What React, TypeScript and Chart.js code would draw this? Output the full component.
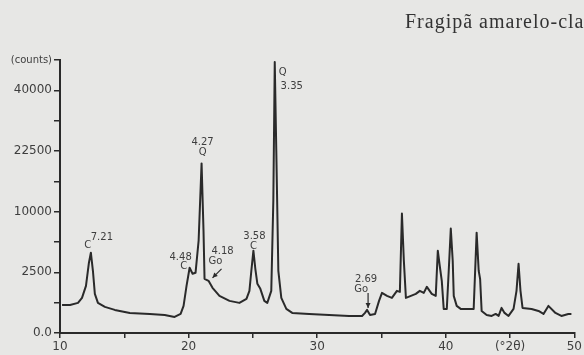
import React, { useEffect, useRef } from "react";
import { Chart, registerables } from "chart.js";

Chart.register(...registerables);

const title = "Fragipã amarelo-claro";

const twoTheta = [
  10.16, 10.78, 11.4, 11.71, 12.02, 12.25, 12.4, 12.56, 12.71, 12.95,
  13.49, 14.26, 15.43, 16.98, 18.14, 18.91, 19.38, 19.61, 19.84, 20.08,
  20.31, 20.54, 20.78, 21.01, 21.16, 21.24, 21.55, 21.86, 22.4, 23.18,
  23.95, 24.5, 24.73, 24.88, 25.04, 25.19, 25.35, 25.58, 25.89, 26.12,
  26.43, 26.59, 26.7, 26.82, 26.98, 27.21, 27.6, 28.06, 29.38, 30.93,
  32.48, 33.49, 33.72, 33.88, 34.11, 34.5, 34.81, 35.04, 35.43, 35.81,
  36.2, 36.43, 36.59, 36.74, 36.9, 37.29, 37.67, 37.98, 38.29, 38.53,
  38.91, 39.22, 39.38, 39.53, 39.69, 39.84, 40.08, 40.23, 40.39, 40.54,
  40.62, 40.85, 41.16, 42.17, 42.4, 42.56, 42.67, 42.79, 43.18, 43.57,
  43.88, 44.11, 44.34, 44.57, 44.88, 45.27, 45.5, 45.66, 45.81, 45.97,
  46.67, 47.21, 47.6, 47.98, 48.53, 48.99, 49.53, 49.77,
];

const counts = [
  536, 536, 616, 838, 1512, 3353, 4380, 2630, 1041, 616,
  463, 362, 274, 247, 222, 175, 247, 499, 1512, 2891,
  2382, 2463, 5791, 19543, 7119, 1995, 1850, 1386, 937, 701,
  616, 791, 1207, 2630, 4601, 2803, 1643, 1325, 701, 616,
  1207, 11923, 49880, 22670, 2630, 838, 394, 274, 247, 222,
  198, 198, 274, 362, 222, 247, 701, 1095, 937, 838,
  1207, 1150, 9690, 3547, 838, 937, 1041, 1207, 1095, 1448,
  1041, 937, 4601, 3072, 1850, 394, 394, 2630, 7401, 3547,
  937, 499, 394, 394, 6843, 2630, 1995, 331, 222, 198,
  247, 198, 428, 274, 198, 394, 1207, 3258, 1207, 428,
  394, 331, 247, 499, 274, 198, 247, 247,
];

const yTickCounts = [0, 2500, 10000, 22500, 40000];
const yTickLabels = ["0.0", "2500", "10000", "22500", "40000"];
const yUnitLabel = "(counts)";
const xUnitLabel = "(°2θ)";

// peak annotations: d-spacing, mineral, anchor position (2θ, counts)
const peakD = ["7.21", "4.48", "4.27", "4.18", "3.58", "3.35", "2.69"];
const peakMineral = ["C", "C", "Q", "Go", "C", "Q", "Go"];
const peakTheta = [12.4, 20.08, 21.01, 21.55, 25.04, 26.7, 33.88];
const peakCounts = [4380, 2891, 19543, 1850, 4601, 49880, 362];

// layout offsets (pixels) for labels: [dx_d, dy_d, dx_m, dy_m]
const labelOffsets = [
  [11, -15, -3, -7],
  [-9, -10, -6, -1],
  [1, -21, 1, -11],
  [14, -29, 7, -19],
  [1, -14, 0, -4],
  [17, 24, 8, 10],
  [-1, -31, -6, -21],
];
// arrows: [tailDx, tailDy, headDx, headDy] or null
const arrowOffsets = [null, null, null, [13, -12, 4, -3], null, null, [1, -17, 1, -2]];

const INK = "#2a2a2a";
const TEXT = "#3e3e3e";
const FONT = "'DejaVu Sans', sans-serif";

const annotationPlugin = {
  id: "peakLabels",
  afterDatasetsDraw(chart: any) {
    const { ctx, scales } = chart;
    ctx.save();
    ctx.fillStyle = TEXT;
    ctx.font = `10px ${FONT}`;
    ctx.textAlign = "center";
    ctx.textBaseline = "middle";
    for (let i = 0; i < peakD.length; i++) {
      const px = scales.x.getPixelForValue(peakTheta[i]);
      const py = scales.y.getPixelForValue(Math.sqrt(peakCounts[i]));
      const o = labelOffsets[i];
      ctx.fillText(peakD[i], px + o[0], py + o[1]);
      ctx.fillText(peakMineral[i], px + o[2], py + o[3]);
      const a = arrowOffsets[i];
      if (a) {
        const x1 = px + a[0], y1 = py + a[1], x2 = px + a[2], y2 = py + a[3];
        ctx.strokeStyle = INK;
        ctx.lineWidth = 1.2;
        ctx.beginPath();
        ctx.moveTo(x1, y1);
        ctx.lineTo(x2, y2);
        ctx.stroke();
        const ang = Math.atan2(y2 - y1, x2 - x1);
        const L = 5, W = 2.5;
        ctx.fillStyle = INK;
        ctx.beginPath();
        ctx.moveTo(x2, y2);
        ctx.lineTo(x2 - L * Math.cos(ang) + W * Math.sin(ang), y2 - L * Math.sin(ang) - W * Math.cos(ang));
        ctx.lineTo(x2 - L * Math.cos(ang) - W * Math.sin(ang), y2 - L * Math.sin(ang) + W * Math.cos(ang));
        ctx.closePath();
        ctx.fill();
        ctx.fillStyle = TEXT;
      }
    }
    ctx.restore();
  },
};

export default function App() {
  const ref = useRef<HTMLCanvasElement | null>(null);

  useEffect(() => {
    if (!ref.current) return;
    const data = twoTheta.map((t, i) => ({ x: t, y: Math.sqrt(counts[i]) }));
    const yTop = 225;
    const chart = new Chart(ref.current, {
      type: "line",
      data: {
        datasets: [
          {
            data,
            borderColor: INK,
            borderWidth: 2,
            pointRadius: 0,
            tension: 0,
            borderJoinStyle: "round",
            fill: false,
          },
        ],
      },
      options: {
        animation: false,
        responsive: false,
        maintainAspectRatio: false,
        events: [],
        layout: { padding: { top: 60, right: 8, left: 0, bottom: 0 } },
        plugins: { legend: { display: false }, tooltip: { enabled: false } },
        scales: {
          x: {
            type: "linear",
            min: 10,
            max: 50,
            afterFit: (s: any) => {
              s.height = 22;
            },
            border: { display: true, color: INK, width: 2 },
            grid: { drawOnChartArea: false, drawTicks: true, tickLength: 5, color: INK, lineWidth: 1.5 },
            ticks: {
              stepSize: 5,
              autoSkip: false,
              maxRotation: 0,
              padding: 2,
              color: TEXT,
              font: { family: FONT, size: 12 },
              callback: (v: any) => {
                const n = Number(v);
                if (n === 45) return xUnitLabel;
                return n % 10 === 0 ? String(n) : "";
              },
            },
          },
          y: {
            type: "linear",
            min: 0,
            max: yTop,
            afterFit: (s: any) => {
              s.width = 60;
            },
            border: { display: true, color: INK, width: 2 },
            grid: { drawOnChartArea: false, drawTicks: true, tickLength: 6, color: INK, lineWidth: 1.5 },
            ticks: {
              stepSize: 25,
              autoSkip: false,
              padding: 2,
              color: TEXT,
              font: (c: any) => ({ family: FONT, size: c.tick && c.tick.value === yTop ? 10 : 12 }),
              callback: (v: any) => {
                const n = Number(v);
                if (n === yTop) return yUnitLabel;
                const idx = yTickCounts.findIndex((c) => Math.abs(Math.sqrt(c) - n) < 1e-6);
                return idx >= 0 ? yTickLabels[idx] : "";
              },
            },
          },
        },
      },
      plugins: [annotationPlugin],
    });
    return () => chart.destroy();
  }, []);

  return (
    <div
      style={{
        position: "absolute",
        left: 0,
        top: 0,
        width: 584,
        height: 355,
        overflow: "hidden",
        background: "#e7e7e5",
      }}
    >
      <canvas ref={ref} width={584} height={355} style={{ position: "absolute", left: 0, top: 0 }} />
      <div
        style={{
          position: "absolute",
          left: 405,
          top: 10,
          whiteSpace: "nowrap",
          fontFamily: "'Liberation Serif', serif",
          fontSize: 20,
          letterSpacing: 1,
          color: "#333",
        }}
      >
        {title}
      </div>
    </div>
  );
}
